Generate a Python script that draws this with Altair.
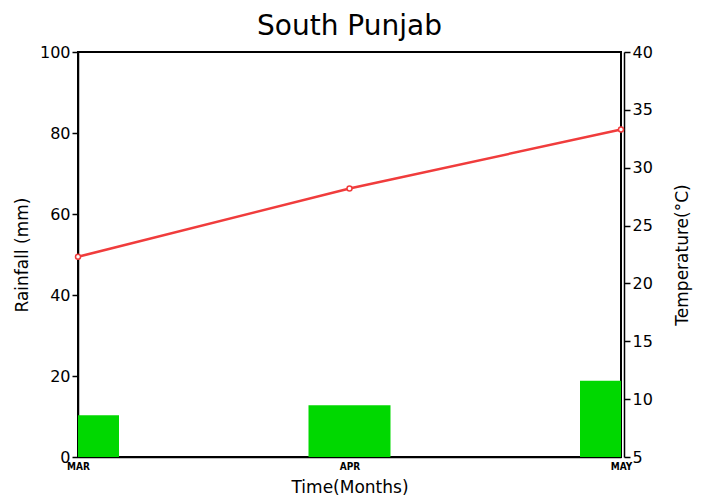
import altair as alt
import pandas as pd

months = ["MAR", "APR", "MAY"]
month_pos = [0, 1, 2]
rainfall = [10.3, 12.8, 18.8]
temperature = [22.3, 28.2, 33.3]

half_width = 0.151
df = pd.DataFrame({"pos": month_pos, "month": months, "rain": rainfall, "temp": temperature})
df["x0"] = df["pos"] - half_width
df["x1"] = df["pos"] + half_width

label_expr = "datum.value == 0 ? 'MAR' : datum.value == 1 ? 'APR' : datum.value == 2 ? 'MAY' : ''"

xscale = alt.Scale(domain=[0, 2], nice=False, zero=False, padding=0)
x = alt.X("x0:Q", scale=xscale,
          axis=alt.Axis(values=month_pos, labelExpr=label_expr, title="Time(Months)",
                        labelFontSize=10, labelFont="DejaVu Sans Condensed", labelColor="black",
                        labelFontWeight="bold",
                        titleFontSize=17, titleFont="DejaVu Sans", titleFontWeight="normal",
                        titleColor="black", tickSize=0, labelPadding=4, titlePadding=8,
                        domainColor="black", domainWidth=1.5, grid=False,
                        labelOverlap=False, labelFlush=False))

bars = alt.Chart(df).mark_bar(clip=True, color="#00d800").encode(
    x=x,
    x2="x1:Q",
    y=alt.Y("rain:Q", scale=alt.Scale(domain=[0, 100], nice=False, padding=0),
            axis=alt.Axis(values=[0, 20, 40, 60, 80, 100], title="Rainfall (mm)", orient="left",
                          labelFontSize=16, labelFont="DejaVu Sans", labelColor="black",
                          titleFontSize=17, titleFont="DejaVu Sans", titleFontWeight="normal",
                          titleColor="black", tickSize=6, tickColor="black", tickWidth=1.5,
                          domainColor="black", domainWidth=1.5, grid=False, labelPadding=2,
                          titlePadding=8)),
    y2=alt.Y2(datum=0),
)

line = alt.Chart(df).mark_line(color="#f03c3c", strokeWidth=2.5,
                               point=alt.OverlayMarkDef(filled=True, fill="white", stroke="#f03c3c",
                                                        strokeWidth=1.5, size=25)).encode(
    x=alt.X("pos:Q", scale=xscale),
    y=alt.Y("temp:Q", scale=alt.Scale(domain=[5, 40], nice=False, zero=False, padding=0),
            axis=alt.Axis(values=[5, 10, 15, 20, 25, 30, 35, 40], title="Temperature(°C)", orient="right",
                          labelFontSize=16, labelFont="DejaVu Sans", labelColor="black",
                          titleFontSize=17, titleFont="DejaVu Sans", titleFontWeight="normal",
                          titleColor="black", titleAngle=270, titleBaseline="top",
                          tickSize=6, tickColor="black", tickWidth=1.5,
                          domainColor="black", domainWidth=1.5, grid=False, labelPadding=2,
                          titlePadding=22, offset=3)),
)

chart = alt.layer(bars, line).resolve_scale(y="independent").properties(
    width=543, height=405,
    title=alt.TitleParams("South Punjab", fontSize=28, font="DejaVu Sans", fontWeight="normal",
                          color="black", anchor="middle", offset=3),
    autosize=alt.AutoSizeParams(type="none"),
    padding={"left": 70, "top": 44, "right": 72, "bottom": 44},
    background="white",
).configure_view(stroke="black", strokeWidth=2)

chart.save("out.html", embed_options={"renderer": "svg", "actions": False})
